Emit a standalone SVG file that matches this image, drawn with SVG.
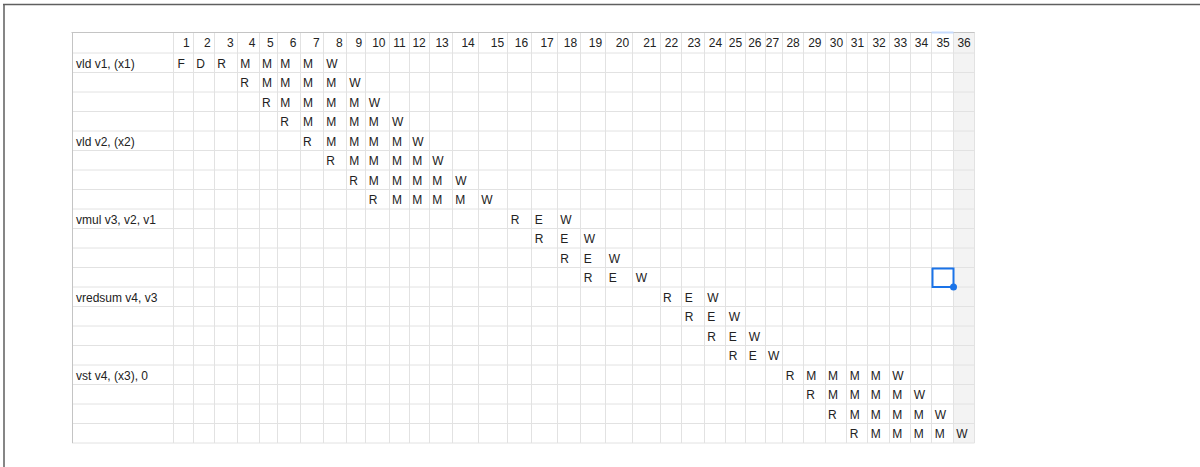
<svg xmlns="http://www.w3.org/2000/svg" width="1200" height="467" viewBox="0 0 1200 467">
<style>
text{font-family:"Liberation Sans",Arial,sans-serif;font-size:12px;fill:#222}
.h{text-anchor:end}
.grid{stroke:#e2e2e2;stroke-width:1;fill:none}
.edge{stroke:#c4c4c4;stroke-width:1;fill:none}
.frame{stroke:#5f5f5f;stroke-width:1.5;fill:none}
</style>
<rect x="0" y="0" width="1200" height="467" fill="#fff"/>
<g id="frame"><path class="frame" d="M3 4.5H1200M4 4V467"/></g>
<g id="sheet">
<rect x="953.5" y="32" width="21" height="411" fill="#f3f3f3"/>
<path class="grid" d="M173.5 32V443M193.5 32V443M214.5 32V443M237.5 32V443M259.5 32V443M277.5 32V443M300.5 32V443M323.5 32V443M346.5 32V443M365.5 32V443M389.5 32V443M409.5 32V443M429.5 32V443M452.5 32V443M478.5 32V443M507.5 32V443M531.5 32V443M557.5 32V443M580.5 32V443M605.5 32V443M632.5 32V443M660.5 32V443M681.5 32V443M704.5 32V443M725.5 32V443M745.5 32V443M765.5 32V443M782.5 32V443M803.5 32V443M825.5 32V443M846.5 32V443M867.5 32V443M889.5 32V443M910.5 32V443M931.5 32V443M953.5 32V443M974.5 32V443"/>
<path class="grid" d="M72 53H974.5M72 72.5H974.5M72 92H974.5M72 111.5H974.5M72 131H974.5M72 150.5H974.5M72 170H974.5M72 189.5H974.5M72 209H974.5M72 228.5H974.5M72 248H974.5M72 267.5H974.5M72 287H974.5M72 306.5H974.5M72 326H974.5M72 345.5H974.5M72 365H974.5M72 384.5H974.5M72 404H974.5M72 423.5H974.5M72 443H974.5"/>
<path class="edge" d="M71.5 32.5H974.5M72.5 32V443"/>
<path d="M931.5 32.5H953.5" stroke="#c6dafc" stroke-width="2"/>
</g>
<g id="header">
<text class="h" x="189.8" y="47">1</text><text class="h" x="210.8" y="47">2</text><text class="h" x="233.8" y="47">3</text><text class="h" x="255.5" y="47">4</text><text class="h" x="273.8" y="47">5</text><text class="h" x="296.5" y="47">6</text><text class="h" x="319.8" y="47">7</text><text class="h" x="342.7" y="47">8</text><text class="h" x="362.2" y="47">9</text><text class="h" x="385.5" y="47">10</text><text class="h" x="405.8" y="47">11</text><text class="h" x="425.8" y="47">12</text><text class="h" x="448.8" y="47">13</text><text class="h" x="474.8" y="47">14</text><text class="h" x="504.2" y="47">15</text><text class="h" x="528.2" y="47">16</text><text class="h" x="553.8" y="47">17</text><text class="h" x="577.2" y="47">18</text><text class="h" x="602.2" y="47">19</text><text class="h" x="629.2" y="47">20</text><text class="h" x="656.5" y="47">21</text><text class="h" x="678.2" y="47">22</text><text class="h" x="700.8" y="47">23</text><text class="h" x="722.2" y="47">24</text><text class="h" x="742.2" y="47">25</text><text class="h" x="761.5" y="47">26</text><text class="h" x="779.2" y="47">27</text><text class="h" x="799.8" y="47">28</text><text class="h" x="821.5" y="47">29</text><text class="h" x="843.2" y="47">30</text><text class="h" x="864.2" y="47">31</text><text class="h" x="885.8" y="47">32</text><text class="h" x="907.2" y="47">33</text><text class="h" x="928.2" y="47">34</text><text class="h" x="949.8" y="47">35</text><text class="h" x="970.8" y="47">36</text>
</g>
<g id="vld-v1">
<text x="76" y="67.5">vld v1, (x1)</text>
<text x="177.5" y="67.5">F</text><text x="196.3" y="67.5">D</text><text x="217.3" y="67.5">R</text><text x="240.3" y="67.5">M</text><text x="262" y="67.5">M</text><text x="280.3" y="67.5">M</text><text x="303" y="67.5">M</text><text x="326.3" y="67.5">W</text>
<text x="240.3" y="87">R</text><text x="262" y="87">M</text><text x="280.3" y="87">M</text><text x="303" y="87">M</text><text x="326.3" y="87">M</text><text x="349.2" y="87">W</text>
<text x="262" y="106.5">R</text><text x="280.3" y="106.5">M</text><text x="303" y="106.5">M</text><text x="326.3" y="106.5">M</text><text x="349.2" y="106.5">M</text><text x="368.7" y="106.5">W</text>
<text x="280.3" y="126">R</text><text x="303" y="126">M</text><text x="326.3" y="126">M</text><text x="349.2" y="126">M</text><text x="368.7" y="126">M</text><text x="392" y="126">W</text>
</g>
<g id="vld-v2">
<text x="76" y="145.5">vld v2, (x2)</text>
<text x="303" y="145.5">R</text><text x="326.3" y="145.5">M</text><text x="349.2" y="145.5">M</text><text x="368.7" y="145.5">M</text><text x="392" y="145.5">M</text><text x="412.3" y="145.5">W</text>
<text x="326.3" y="165">R</text><text x="349.2" y="165">M</text><text x="368.7" y="165">M</text><text x="392" y="165">M</text><text x="412.3" y="165">M</text><text x="432.3" y="165">W</text>
<text x="349.2" y="184.5">R</text><text x="368.7" y="184.5">M</text><text x="392" y="184.5">M</text><text x="412.3" y="184.5">M</text><text x="432.3" y="184.5">M</text><text x="455.3" y="184.5">W</text>
<text x="368.7" y="204">R</text><text x="392" y="204">M</text><text x="412.3" y="204">M</text><text x="432.3" y="204">M</text><text x="455.3" y="204">M</text><text x="481.3" y="204">W</text>
</g>
<g id="vmul">
<text x="76" y="223.5">vmul v3, v2, v1</text>
<text x="510.7" y="223.5">R</text><text x="534.7" y="223.5">E</text><text x="560.3" y="223.5">W</text>
<text x="534.7" y="243">R</text><text x="560.3" y="243">E</text><text x="583.7" y="243">W</text>
<text x="560.3" y="262.5">R</text><text x="583.7" y="262.5">E</text><text x="608.7" y="262.5">W</text>
<text x="583.7" y="282">R</text><text x="608.7" y="282">E</text><text x="635.7" y="282">W</text>
</g>
<g id="vredsum">
<text x="76" y="301.5">vredsum v4, v3</text>
<text x="663" y="301.5">R</text><text x="684.7" y="301.5">E</text><text x="707.3" y="301.5">W</text>
<text x="684.7" y="321">R</text><text x="707.3" y="321">E</text><text x="728.7" y="321">W</text>
<text x="707.3" y="340.5">R</text><text x="728.7" y="340.5">E</text><text x="748.7" y="340.5">W</text>
<text x="728.7" y="360">R</text><text x="748.7" y="360">E</text><text x="768" y="360">W</text>
</g>
<g id="vst">
<text x="76" y="379.5">vst v4, (x3), 0</text>
<text x="785.7" y="379.5">R</text><text x="806.3" y="379.5">M</text><text x="828" y="379.5">M</text><text x="849.7" y="379.5">M</text><text x="870.7" y="379.5">M</text><text x="892.3" y="379.5">W</text>
<text x="806.3" y="399">R</text><text x="828" y="399">M</text><text x="849.7" y="399">M</text><text x="870.7" y="399">M</text><text x="892.3" y="399">M</text><text x="913.7" y="399">W</text>
<text x="828" y="418.5">R</text><text x="849.7" y="418.5">M</text><text x="870.7" y="418.5">M</text><text x="892.3" y="418.5">M</text><text x="913.7" y="418.5">M</text><text x="934.7" y="418.5">W</text>
<text x="849.7" y="438">R</text><text x="870.7" y="438">M</text><text x="892.3" y="438">M</text><text x="913.7" y="438">M</text><text x="934.7" y="438">M</text><text x="956.3" y="438">W</text>
</g>
<g id="selection">
<rect x="932.5" y="268.5" width="21" height="18.5" fill="none" stroke="#1a73e8" stroke-width="2"/>
<circle cx="953.5" cy="287" r="3.5" fill="#1a73e8"/>
</g>
</svg>
